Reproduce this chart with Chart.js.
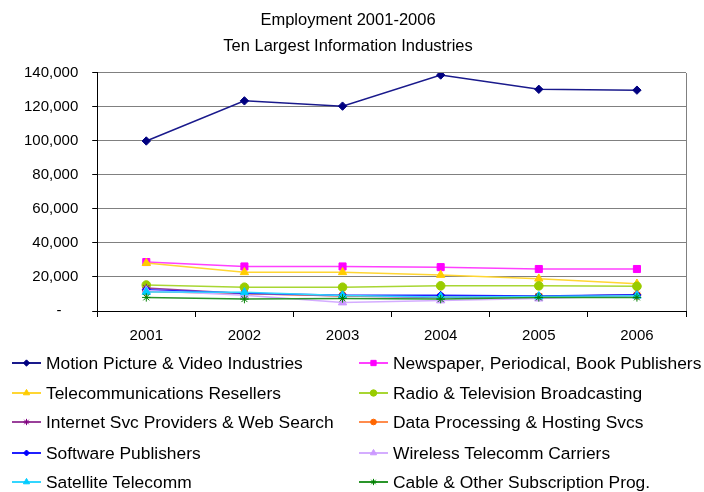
<!DOCTYPE html>
<html>
<head>
<meta charset="utf-8">
<script src="https://cdn.jsdelivr.net/npm/chart.js@4/dist/chart.umd.min.js"></script>
<style>
  html, body { margin: 0; padding: 0; background: #fff; }
  #wrap { position: relative; width: 704px; height: 492px; overflow: hidden; }
  #chart { position: absolute; left: 0; top: 0; }
  .lg { position: absolute; height: 22px; line-height: 22px; font-family: "Liberation Sans", Arial, sans-serif; font-size: 17.4px; color: #000; white-space: nowrap; }
  .lg canvas { position: absolute; left: 0; top: 4px; }
  .lg span { position: absolute; top: 0; }
</style>
</head>
<body>
<div id="wrap">
  <canvas id="chart" width="704" height="492"></canvas>
  <div id="legend"></div>
</div>
<script>
// ---- data ----
const years = ['2001', '2002', '2003', '2004', '2005', '2006'];
const seriesNames = [
  'Motion Picture & Video Industries',
  'Newspaper, Periodical, Book Publishers',
  'Telecommunications Resellers',
  'Radio & Television Broadcasting',
  'Internet Svc Providers & Web Search',
  'Data Processing & Hosting Svcs',
  'Software Publishers',
  'Wireless Telecomm Carriers',
  'Satellite Telecomm',
  'Cable & Other Subscription Prog.'
];
const motionPicture  = [100000, 123600, 120500, 138800, 130400, 129900];
const newspaper      = [ 28800,  26200,  26200,  25800,  24700,  24700];
const telecomResell  = [ 28200,  22800,  22800,  21200,  19000,  16000];
const radioTV        = [ 15300,  14000,  14000,  14800,  14800,  14500];
const internetSvc    = [ 13500,  10300,   8800,   8000,   8500,   9500];
const dataProcessing = [ 11500,  10200,   9000,   8500,   8500,   9200];
const software       = [ 12500,  10400,   9300,   9200,   8800,   9500];
const wireless       = [ 12000,   9200,   5000,   6200,   7300,   9000];
const satellite      = [ 11200,  11000,   9100,   8300,   8600,   9000];
const cable          = [  8000,   7000,   7400,   7000,   8000,   8000];
const yTickValues    = [0, 20000, 40000, 60000, 80000, 100000, 120000, 140000];

const seriesValues = [motionPicture, newspaper, telecomResell, radioTV, internetSvc,
                      dataProcessing, software, wireless, satellite, cable];
const seriesColors = ['#000080', '#FF00FF', '#FFCC00', '#99CC00', '#800080',
                      '#FF6600', '#0000FF', '#CC99FF', '#00CCFF', '#008000'];
const seriesLineColors = ['#1a1a8c', '#ff40ff', '#ffd633', '#a8d633', '#9a409a',
                          '#ff8c4d', '#2020ff', '#d4adff', '#33d6ff', '#2a952a'];
const seriesMarkers = ['rectRot', 'rect', 'triangle', 'circle', 'star',
                       'circle', 'rectRot', 'triangle', 'triangle', 'star'];
const markerRadius = [4.2, 5, 4.8, 4.3, 4.2, 3.8, 4, 4.8, 4.8, 4.2];

const FONT = '"Liberation Sans", Arial, sans-serif';

const datasets = seriesNames.map((name, i) => ({
  label: name,
  data: seriesValues[i],
  borderColor: seriesLineColors[i],
  backgroundColor: seriesColors[i],
  pointBackgroundColor: seriesColors[i],
  pointBorderColor: seriesColors[i],
  pointStyle: seriesMarkers[i],
  pointRadius: markerRadius[i],
  pointBorderWidth: 1,
  borderWidth: 1.5,
  tension: 0,
  fill: false,
  order: seriesNames.length - i
}));

const chart = new Chart(document.getElementById('chart'), {
  type: 'line',
  data: { labels: years, datasets },
  options: {
    responsive: false,
    animation: false,
    devicePixelRatio: 1,
    layout: { padding: { left: 10, right: 18, top: 0, bottom: 137 } },
    plugins: {
      legend: { display: false },
      tooltip: { enabled: false },
      title: {
        display: true,
        text: ['Employment 2001-2006', 'Ten Largest Information Industries'],
        color: '#000',
        font: { family: FONT, size: 16.5, weight: 'normal', lineHeight: 1.545 },
        padding: { top: 8, bottom: 14 }
      }
    },
    scales: {
      x: {
        type: 'category',
        offset: true,
        grid: {
          offset: true,
          drawOnChartArea: true,
          color: ctx => (ctx.type === 'tick' ? 'rgba(0,0,0,0)' : '#808080'),
          tickColor: '#000',
          tickLength: 6,
          lineWidth: 1
        },
        border: { color: '#000', width: 1 },
        ticks: { color: '#000', font: { family: FONT, size: 15 }, padding: 10, maxRotation: 0 }
      },
      y: {
        min: 0,
        max: 140000,
        afterBuildTicks: axis => { axis.ticks = yTickValues.map(v => ({ value: v })); },
        grid: { color: '#808080', tickColor: '#000', tickLength: 5, lineWidth: 1 },
        border: { color: '#000', width: 1 },
        ticks: {
          color: '#000',
          font: { family: FONT, size: 15 },
          padding: 14,
          callback: v => (v === 0 ? '-    ' : Number(v).toLocaleString('en-US'))
        }
      }
    }
  }
});

// ---- HTML legend (two columns) ----
const legend = document.getElementById('legend');
const colX = [12, 359];
const rowY = [363, 393, 422, 453, 482];
seriesNames.forEach((name, i) => {
  const col = i % 2, row = Math.floor(i / 2);
  const item = document.createElement('div');
  item.className = 'lg';
  item.style.left = colX[col] + 'px';
  item.style.top = (rowY[row] - 11) + 'px';
  const c = document.createElement('canvas');
  c.width = 30; c.height = 14;
  item.appendChild(c);
  const s = document.createElement('span');
  s.style.left = '34px';
  s.textContent = name;
  item.appendChild(s);
  legend.appendChild(item);
  const ctx = c.getContext('2d');
  ctx.strokeStyle = seriesLineColors[i];
  ctx.lineWidth = 2;
  ctx.beginPath(); ctx.moveTo(0, 7); ctx.lineTo(29, 7); ctx.stroke();
  ctx.fillStyle = seriesColors[i];
  ctx.strokeStyle = seriesColors[i];
  ctx.lineWidth = 1;
  if (Chart.helpers && Chart.helpers.drawPoint) {
    Chart.helpers.drawPoint(ctx, { pointStyle: seriesMarkers[i], radius: markerRadius[i] * 0.75, rotation: 0, borderWidth: 1 }, 14.5, 7);
  } else {
    ctx.beginPath(); ctx.arc(14.5, 7, 3, 0, Math.PI * 2); ctx.fill();
  }
});
</script>
</body>
</html>
